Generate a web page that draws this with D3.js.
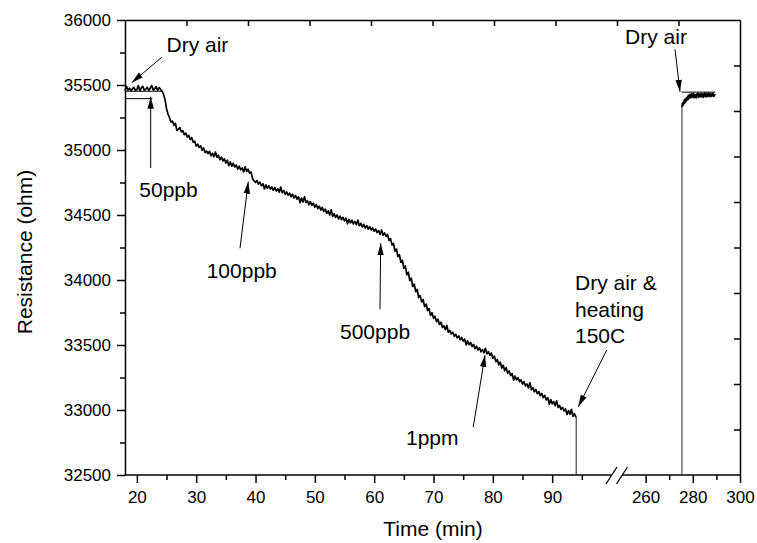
<!DOCTYPE html>
<html>
<head>
<meta charset="utf-8">
<script src="https://cdn.jsdelivr.net/npm/d3@7/dist/d3.min.js"></script>
<style>
  html, body { margin: 0; padding: 0; background: #fff; }
  svg { display: block; font-family: "Liberation Sans", Arial, sans-serif; }
</style>
</head>
<body>
<svg id="chart" width="757" height="543"></svg>
<script>
// ---------------- DATA ----------------
// Left segment (time in min, resistance in ohm)
const seriesLeft = [
  [18.0,35455],[18.25,35490],[18.5,35462],[18.75,35475],[19.0,35457],[19.25,35470],[19.5,35482],[19.75,35458],
  [20.0,35465],[20.25,35495],[20.5,35455],[20.75,35478],[21.0,35490],[21.25,35460],[21.5,35468],[21.75,35483],
  [22.0,35458],[22.25,35475],[22.5,35496],[22.75,35462],[23.0,35470],[23.25,35488],[23.5,35458],[23.75,35480],
  [24.0,35465],[24.25,35452],[24.5,35430],[24.75,35385],[25.0,35318],[25.25,35275],[25.5,35250],[25.75,35215],
  [26.0,35222],[26.25,35190],[26.5,35205],[26.75,35150],[27.0,35160],[27.25,35172],[27.5,35140],[27.75,35148],
  [28.0,35118],[28.25,35130],[28.5,35100],[28.75,35112],[29.0,35082],[29.25,35095],[29.5,35060],[29.75,35068],
  [30.0,35030],[30.25,35045],[30.5,35020],[30.75,35032],[31.0,34998],[31.25,35015],[31.5,34980],[31.75,34992],
  [32.0,34972],[32.25,34990],[32.5,34955],[32.75,34975],[33.0,34948],[33.25,34985],[33.5,34945],[33.75,34960],
  [34.0,34925],[34.25,34945],[34.5,34915],[34.75,34932],[35.0,34900],[35.25,34922],[35.5,34880],[35.75,34908],
  [36.0,34875],[36.25,34898],[36.5,34870],[36.75,34885],[37.0,34852],[37.25,34875],[37.5,34848],[37.75,34862],
  [38.0,34832],[38.25,34870],[38.5,34835],[38.75,34852],[39.0,34822],[39.25,34830],[39.5,34780],[39.75,34762],
  [40.0,34750],[40.25,34765],[40.5,34738],[40.75,34752],[41.0,34725],[41.25,34740],[41.5,34700],[41.75,34732],
  [42.0,34705],[42.25,34725],[42.5,34700],[42.75,34715],[43.0,34690],[43.25,34712],[43.5,34685],[43.75,34702],
  [44.0,34675],[44.25,34715],[44.5,34670],[44.75,34688],[45.0,34660],[45.25,34678],[45.5,34652],[45.75,34668],
  [46.0,34640],[46.25,34660],[46.5,34632],[46.75,34650],[47.0,34622],[47.25,34640],[47.5,34595],[47.75,34630],
  [48.0,34600],[48.25,34640],[48.5,34595],[48.75,34610],[49.0,34580],[49.25,34602],[49.5,34575],[49.75,34590],
  [50.0,34560],[50.25,34580],[50.5,34550],[50.75,34568],[51.0,34538],[51.25,34558],[51.5,34528],[51.75,34545],
  [52.0,34512],[52.25,34532],[52.5,34500],[52.75,34540],[53.0,34490],[53.25,34510],[53.5,34482],[53.75,34500],
  [54.0,34470],[54.25,34492],[54.5,34465],[54.75,34482],[55.0,34455],[55.25,34475],[55.5,34432],[55.75,34466],
  [56.0,34440],[56.25,34460],[56.5,34432],[56.75,34450],[57.0,34425],[57.25,34460],[57.5,34418],[57.75,34435],
  [58.0,34408],[58.25,34428],[58.5,34400],[58.75,34418],[59.0,34392],[59.25,34410],[59.5,34385],[59.75,34400],
  [60.0,34375],[60.25,34392],[60.5,34365],[60.75,34380],[61.0,34350],[61.25,34385],[61.5,34345],[61.75,34362],
  [62.0,34335],[62.25,34350],[62.5,34305],[62.75,34318],[63.0,34270],[63.25,34282],[63.5,34222],[63.75,34238],
  [64.0,34180],[64.25,34195],[64.5,34135],[64.75,34152],[65.0,34090],[65.25,34108],[65.5,34040],[65.75,34060],
  [66.0,33995],[66.25,34015],[66.5,33950],[66.75,33968],[67.0,33910],[67.25,33928],[67.5,33865],[67.75,33880],
  [68.0,33832],[68.25,33850],[68.5,33795],[68.75,33815],[69.0,33765],[69.25,33780],[69.5,33728],[69.75,33748],
  [70.0,33705],[70.25,33722],[70.5,33680],[70.75,33698],[71.0,33658],[71.25,33675],[71.5,33636],[71.75,33648],
  [72.0,33618],[72.25,33650],[72.5,33598],[72.75,33612],[73.0,33585],[73.25,33598],[73.5,33568],[73.75,33582],
  [74.0,33555],[74.25,33570],[74.5,33540],[74.75,33558],[75.0,33530],[75.25,33545],[75.5,33500],[75.75,33532],
  [76.0,33502],[76.25,33520],[76.5,33488],[76.75,33505],[77.0,33472],[77.25,33490],[77.5,33462],[77.75,33478],
  [78.0,33448],[78.25,33465],[78.5,33440],[78.75,33475],[79.0,33432],[79.25,33448],[79.5,33422],[79.75,33438],
  [80.0,33398],[80.25,33415],[80.5,33372],[80.75,33388],[81.0,33348],[81.25,33368],[81.5,33322],[81.75,33345],
  [82.0,33302],[82.25,33325],[82.5,33282],[82.75,33300],[83.0,33265],[83.25,33280],[83.5,33230],[83.75,33262],
  [84.0,33232],[84.25,33248],[84.5,33218],[84.75,33232],[85.0,33200],[85.25,33218],[85.5,33185],[85.75,33200],
  [86.0,33170],[86.25,33210],[86.5,33155],[86.75,33172],[87.0,33140],[87.25,33158],[87.5,33125],[87.75,33142],
  [88.0,33110],[88.25,33128],[88.5,33095],[88.75,33112],[89.0,33078],[89.25,33095],[89.5,33045],[89.75,33080],
  [90.0,33048],[90.25,33065],[90.5,33032],[90.75,33070],[91.0,33020],[91.25,33035],[91.5,33005],[91.75,33020],
  [92.0,32992],[92.25,33008],[92.5,32965],[92.75,32995],[93.0,32968],[93.25,33005],[93.5,32952],[93.75,32972],
  [94.0,32945]
];
// Right segment (after the axis break)
const seriesRight = [
  [275.4,35330],[275.6,35358],[275.8,35342],[276.0,35368],[276.2,35355],[276.4,35385],[276.6,35362],[276.8,35392],
  [277.0,35372],[277.2,35400],[277.4,35380],[277.6,35395],[277.8,35412],[278.0,35390],[278.2,35420],[278.4,35398],
  [278.6,35408],[278.8,35428],[279.0,35400],[279.2,35415],[279.4,35432],[279.6,35405],[279.8,35422],[280.0,35410],
  [280.2,35435],[280.4,35402],[280.6,35418],[280.8,35428],[281.0,35408],[281.2,35425],[281.4,35400],[281.6,35430],
  [281.8,35412],[282.0,35420],[282.2,35438],[282.4,35405],[282.6,35422],[282.8,35410],[283.0,35432],[283.2,35415],
  [283.4,35425],[283.6,35408],[283.8,35436],[284.0,35412],[284.2,35422],[284.4,35405],[284.6,35430],[284.8,35418],
  [285.0,35440],[285.2,35410],[285.4,35425],[285.6,35415],[285.8,35434],[286.0,35408],[286.2,35428],[286.4,35418],
  [286.6,35438],[286.8,35412],[287.0,35425],[287.2,35420],[287.4,35436],[287.6,35410],[287.8,35428],[288.0,35415],
  [288.2,35432],[288.4,35418],[288.6,35438],[288.8,35412],[289.0,35426],[289.2,35418],[289.4,35430]
];
// vertical switching lines: [time, from, to]
const switchLines = [
  {seg: "L", t: 94.05, v0: 32950, v1: 32500},
  {seg: "R", t: 275.4, v0: 32500, v1: 35330}
];
// horizontal reference (baseline) lines
const refLines = [
  {seg: "L", t0: 18, t1: 22.6, v: 35395},
  {seg: "L", t0: 18, t1: 24.4, v: 35452},
  {seg: "R", t0: 275.2, t1: 289.5, v: 35445}
];

const yTicks = [32500, 33000, 33500, 34000, 34500, 35000, 35500, 36000];
const yMinor = [32750, 33250, 33750, 34250, 34750, 35250, 35750];
const xTicksL = [20, 30, 40, 50, 60, 70, 80, 90];
const xMinorL = [25, 35, 45, 55, 65, 75, 85, 95];
const xTicksR = [260, 280, 300];
const xMinorR = [270, 290];

// annotations: text (lines), text anchor point, arrow tail & tip (data coords)
const annotations = [
  {seg: "L", lines: ["Dry air"], t: 25.0, v: 35754, tail: [24.19, 35713], tip: [19.13, 35518]},
  {seg: "L", lines: ["50ppb"], t: 20.41, v: 34638, tail: [22.33, 34862], tip: [22.33, 35410]},
  {seg: "L", lines: ["100ppb"], t: 31.77, v: 34013, tail: [37.38, 34244], tip: [38.78, 34756]},
  {seg: "L", lines: ["500ppb"], t: 54.24, v: 33544, tail: [60.98, 33775], tip: [61.1, 34282]},
  {seg: "L", lines: ["1ppm"], t: 65.36, v: 32731, tail: [76.7, 32869], tip: [78.68, 33423]},
  {seg: "L", lines: ["Dry air &", "heating", "150C"], t: 93.85, v: 33923, tail: [99.2, 33462], tip: [94.4, 33025]},
  {seg: "R", lines: ["Dry air"], t: 251.3, v: 35815, tail: [272.46, 35775], tip: [274.58, 35448]}
];

// ---------------- CHART ----------------
const svg = d3.select("#chart");
const L = 125, R = 740, T = 20, B = 475;
const breakL = 611.5, breakR = 622;

const xL = d3.scaleLinear().domain([18, 100]).range([L, breakL]);
const xR = d3.scaleLinear().domain([250, 300]).range([breakR, R]);
const y = d3.scaleLinear().domain([32500, 36000]).range([B, T]);
const xs = s => (s === "L" ? xL : xR);

const axisColor = "#000";
const sw = 1.5;
const FONT = "Liberation Sans, Arial, sans-serif";

// Left axis
const gy = svg.append("g").attr("transform", `translate(${L},0)`);
gy.call(d3.axisLeft(y).tickValues(yTicks).tickSize(8).tickPadding(6).tickSizeOuter(0).tickFormat(d3.format("d")));
gy.append("g").call(d3.axisLeft(y).tickValues(yMinor).tickSize(5).tickFormat("")).select(".domain").remove();
gy.selectAll("text").attr("font-size", 17).attr("font-family", FONT).attr("fill", "#000");
gy.selectAll("line, path").attr("stroke", axisColor).attr("stroke-width", sw);

// Top frame axis (inward ticks)
const topScale = d3.scaleLinear().domain([0, 10]).range([L, R]);
const gt = svg.append("g").attr("transform", `translate(0,${T})`);
gt.call(d3.axisTop(topScale).tickValues([1,2,3,4,5,6,7,8,9]).tickSize(-6).tickSizeOuter(0).tickFormat(""));
gt.selectAll("line, path").attr("stroke", axisColor).attr("stroke-width", sw);

// Right frame axis (inward ticks)
const rightScale = d3.scaleLinear().domain([0, 10]).range([B, T]);
const gr = svg.append("g").attr("transform", `translate(${R},0)`);
gr.call(d3.axisRight(rightScale).tickValues([1,2,3,4,5,6,7,8,9]).tickSize(-6).tickSizeOuter(0).tickFormat(""));
gr.selectAll("line, path").attr("stroke", axisColor).attr("stroke-width", sw);

// Bottom axes (broken)
function bottomAxis(scale, major, minor) {
  const g = svg.append("g").attr("transform", `translate(0,${B})`);
  g.call(d3.axisBottom(scale).tickValues(major).tickSize(8).tickPadding(8).tickFormat(d3.format("d")));
  g.select(".domain").remove();
  const gm = g.append("g").call(d3.axisBottom(scale).tickValues(minor).tickSize(5).tickFormat(""));
  gm.select(".domain").remove();
  g.selectAll("text").attr("font-size", 17).attr("font-family", FONT).attr("fill", "#000");
  g.selectAll("line").attr("stroke", axisColor).attr("stroke-width", sw);
  const [d0, d1] = scale.domain();
  g.append("line").attr("x1", scale(d0)).attr("x2", scale(d1)).attr("y1", 0).attr("y2", 0)
    .attr("stroke", axisColor).attr("stroke-width", sw);
}
bottomAxis(xL, xTicksL, xMinorL);
bottomAxis(xR, xTicksR, xMinorR);

// Break marks
[xL(100), xR(250)].forEach(cx => {
  svg.append("line").attr("x1", cx - 5.5).attr("y1", B + 9).attr("x2", cx + 5.5).attr("y2", B - 8)
    .attr("stroke", "#000").attr("stroke-width", 1.3);
});

// Axis titles
svg.append("text").attr("x", 433).attr("y", 536).attr("text-anchor", "middle")
  .attr("font-size", 21).attr("fill", "#000").text("Time (min)");
svg.append("text").attr("transform", "translate(32,252) rotate(-90)").attr("text-anchor", "middle")
  .attr("font-size", 21).attr("fill", "#000").text("Resistance (ohm)");

// Reference lines
refLines.forEach(r => {
  const sx = xs(r.seg);
  svg.append("line").attr("x1", sx(r.t0)).attr("x2", sx(r.t1)).attr("y1", y(r.v)).attr("y2", y(r.v))
    .attr("stroke", "#000").attr("stroke-width", 1);
});

// Switching lines
switchLines.forEach(s => {
  const sx = xs(s.seg);
  svg.append("line").attr("x1", sx(s.t)).attr("x2", sx(s.t)).attr("y1", y(s.v0)).attr("y2", y(s.v1))
    .attr("stroke", "#222").attr("stroke-width", 1);
});

// Data lines
const lineL = d3.line().x(d => xL(d[0])).y(d => y(d[1]));
const lineR = d3.line().x(d => xR(d[0])).y(d => y(d[1]));
svg.append("path").datum(seriesLeft).attr("d", lineL).attr("fill", "none").attr("stroke", "#000")
  .attr("stroke-width", 1.7).attr("stroke-linejoin", "round");
svg.append("path").datum(seriesRight).attr("d", lineR).attr("fill", "none").attr("stroke", "#000")
  .attr("stroke-width", 1.7).attr("stroke-linejoin", "round");

// Arrow marker
svg.append("defs").append("marker")
  .attr("id", "arrow").attr("viewBox", "0 0 12 8").attr("refX", 12).attr("refY", 4)
  .attr("markerWidth", 12).attr("markerHeight", 8).attr("markerUnits", "userSpaceOnUse")
  .attr("orient", "auto")
  .append("path").attr("d", "M0,0.8 L12,4 L0,7.2 Z").attr("fill", "#000");

// Annotations
annotations.forEach(a => {
  const sx = xs(a.seg);
  svg.append("line")
    .attr("x1", sx(a.tail[0])).attr("y1", y(a.tail[1]))
    .attr("x2", sx(a.tip[0])).attr("y2", y(a.tip[1]))
    .attr("stroke", "#000").attr("stroke-width", 1).attr("marker-end", "url(#arrow)");
  const txt = svg.append("text").attr("x", sx(a.t)).attr("y", y(a.v))
    .attr("font-size", 21).attr("fill", "#000");
  a.lines.forEach((ln, i) => {
    txt.append("tspan").attr("x", sx(a.t)).attr("dy", i === 0 ? 0 : 26.7).text(ln);
  });
});
</script>
</body>
</html>
